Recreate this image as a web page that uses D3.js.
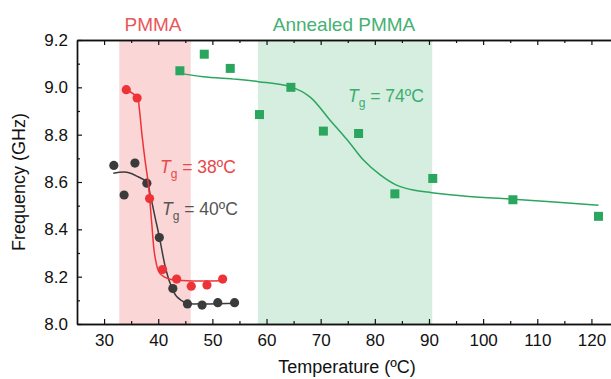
<!DOCTYPE html>
<html>
<head>
<meta charset="utf-8">
<script src="https://cdn.jsdelivr.net/npm/d3@7"></script>
<style>
body{margin:0;background:#fff;}
svg{font-family:"Liberation Sans",Arial,sans-serif;}
</style>
</head>
<body>
<script>
// PMMA (red circles)
const pmmaT = [34.1, 36.1, 38.4, 40.8, 43.4, 46.1, 49.0, 51.9];
const pmmaF = [8.99, 8.955, 8.53, 8.23, 8.19, 8.16, 8.165, 8.19];
const pmmaFitT = [33.9, 36.15, 36.5, 37.0, 37.6, 38.2, 38.8, 39.4, 40.3, 42.2, 45.3, 52.0];
const pmmaFitF = [8.993, 8.956, 8.911, 8.799, 8.686, 8.587, 8.426, 8.285, 8.214, 8.189, 8.183, 8.183];

// second PMMA sample (dark circles)
const greyT = [31.8, 33.7, 35.7, 37.9, 40.2, 42.7, 45.4, 48.1, 51.0, 54.1];
const greyF = [8.67, 8.545, 8.68, 8.595, 8.365, 8.15, 8.085, 8.08, 8.09, 8.09];
const greyFitT = [31.7, 34.2, 36.3, 37.9, 38.5, 39.4, 40.2, 41.3, 42.2, 43.4, 45.3, 47.7, 54.8];
const greyFitF = [8.637, 8.641, 8.622, 8.599, 8.549, 8.453, 8.369, 8.242, 8.172, 8.116, 8.088, 8.085, 8.088];

// annealed PMMA (green squares)
const annT = [44.0, 48.5, 53.3, 58.7, 64.5, 70.5, 77.0, 83.7, 90.7, 105.5, 121.3];
const annF = [9.07, 9.14, 9.08, 8.885, 9.0, 8.815, 8.805, 8.55, 8.615, 8.525, 8.455];
const annFitT = [43.9, 48.3, 54.5, 58.5, 64.35, 68.0, 71.7, 75.4, 77.9, 81.0, 84.0, 87.1, 90.5, 96.4, 105.6, 121.3];
const annFitF = [9.059, 9.045, 9.034, 9.024, 9.003, 8.960, 8.862, 8.764, 8.693, 8.630, 8.587, 8.566, 8.555, 8.541, 8.527, 8.502];

// shaded ranges
const bands = [[32.8, 46.0], [58.4, 90.6]];

const xTicks = [30, 40, 50, 60, 70, 80, 90, 100, 110, 120];
const yTicks = [8.0, 8.2, 8.4, 8.6, 8.8, 9.0, 9.2];

const w = 611, h = 379;
const padL = 77, padT = 40, padB = 324, padR = 618.5;

const svg = d3.select("body").append("svg").attr("width", w).attr("height", h);

const x = d3.scaleLinear().domain([25, 125]).range([padL, padR]);
const y = d3.scaleLinear().domain([8.0, 9.2]).range([padB, padT]);

const red = "#ee3338", green = "#2aa65e", grey = "#3b3b3b";

// background bands
const bandCol = ["#fbd6d6", "#d5eee0"];
svg.selectAll("rect.band").data(bands).enter().append("rect")
  .attr("class", "band")
  .attr("x", d => x(d[0]))
  .attr("width", d => x(d[1]) - x(d[0]))
  .attr("y", padT).attr("height", padB - padT)
  .attr("fill", (d, i) => bandCol[i]);

// axes
function minor(step, a, b) {
  const out = [];
  for (let v = a; v <= b + 1e-9; v += step) out.push(+v.toFixed(2));
  return out;
}
const xMinor = minor(10, 35, 115);
const yMinor = minor(0.2, 8.1, 9.1);

svg.append("g").attr("transform", "translate(0," + padB + ")")
  .call(d3.axisBottom(x).tickValues(xTicks).tickSize(-5).tickPadding(10).tickSizeOuter(0)
    .tickFormat(d3.format("d")));
svg.append("g").attr("transform", "translate(0," + padB + ")")
  .call(d3.axisBottom(x).tickValues(xMinor).tickSize(-3).tickFormat("").tickSizeOuter(0));
svg.append("g").attr("transform", "translate(0," + padT + ")")
  .call(d3.axisTop(x).tickValues(xTicks).tickSize(-5).tickFormat("").tickSizeOuter(0));
svg.append("g").attr("transform", "translate(0," + padT + ")")
  .call(d3.axisTop(x).tickValues(xMinor).tickSize(-3).tickFormat("").tickSizeOuter(0));

svg.append("g").attr("transform", "translate(" + padL + ",0)")
  .call(d3.axisLeft(y).tickValues(yTicks).tickSize(-5).tickPadding(9).tickSizeOuter(0)
    .tickFormat(d3.format(".1f")));
svg.append("g").attr("transform", "translate(" + padL + ",0)")
  .call(d3.axisLeft(y).tickValues(yMinor).tickSize(-3).tickFormat("").tickSizeOuter(0));

svg.selectAll(".domain").attr("stroke", "#111").attr("stroke-width", 1.4);
svg.selectAll(".tick line").attr("stroke", "#111").attr("stroke-width", 1.2);
svg.selectAll(".tick text").attr("font-size", 17).attr("fill", "#111")
  .attr("font-family", "Liberation Sans, Arial, sans-serif");

// right frame edge (outside view)
svg.append("line").attr("x1", padR).attr("x2", padR).attr("y1", padT).attr("y2", padB)
  .attr("stroke", "#111").attr("stroke-width", 1.4);

// axis titles
svg.append("text").attr("x", 347).attr("y", 373)
  .attr("text-anchor", "middle").attr("font-size", 18).attr("fill", "#111")
  .text("Temperature (ºC)");
svg.append("text").attr("transform", "translate(25,182) rotate(-90)")
  .attr("text-anchor", "middle").attr("font-size", 18).attr("fill", "#111")
  .text("Frequency (GHz)");

// fit curves
const line = d3.line().x(d => x(d[0])).y(d => y(d[1])).curve(d3.curveCatmullRom.alpha(0.5));
function fit(ts, fs, col) {
  svg.append("path").datum(d3.zip(ts, fs))
    .attr("d", line).attr("fill", "none").attr("stroke", col).attr("stroke-width", 1.5);
}
function circles(ts, fs, col) {
  svg.append("g").selectAll("circle").data(d3.zip(ts, fs)).enter().append("circle")
    .attr("cx", d => x(d[0])).attr("cy", d => y(d[1])).attr("r", 4.6).attr("fill", col);
}

fit(greyFitT, greyFitF, grey);
circles(greyT, greyF, grey);
fit(pmmaFitT, pmmaFitF, red);
circles(pmmaT, pmmaF, red);
fit(annFitT, annFitF, green);
svg.append("g").selectAll("rect").data(d3.zip(annT, annF)).enter().append("rect")
  .attr("x", d => x(d[0]) - 4.5).attr("y", d => y(d[1]) - 4.5)
  .attr("width", 9).attr("height", 9).attr("fill", green);

// top labels
svg.append("text").attr("x", 153).attr("y", 31).attr("text-anchor", "middle")
  .attr("font-size", 19).attr("fill", "#e8575b").text("PMMA");
svg.append("text").attr("x", 344).attr("y", 31).attr("text-anchor", "middle")
  .attr("font-size", 19).attr("fill", "#45b173").text("Annealed PMMA");

// Tg labels
function tg(px, py, val, col) {
  const t = svg.append("text").attr("x", px).attr("y", py).attr("font-size", 17.5).attr("fill", col);
  t.append("tspan").attr("font-style", "italic").text("T");
  t.append("tspan").attr("font-size", 12).attr("dy", 5).text("g");
  t.append("tspan").attr("dy", -5).text(" = " + val + "ºC");
}
tg(160, 173, 38, "#e8474c");
tg(162, 215, 40, "#555555");
tg(348, 102, 74, "#3aad6c");
</script>
</body>
</html>
